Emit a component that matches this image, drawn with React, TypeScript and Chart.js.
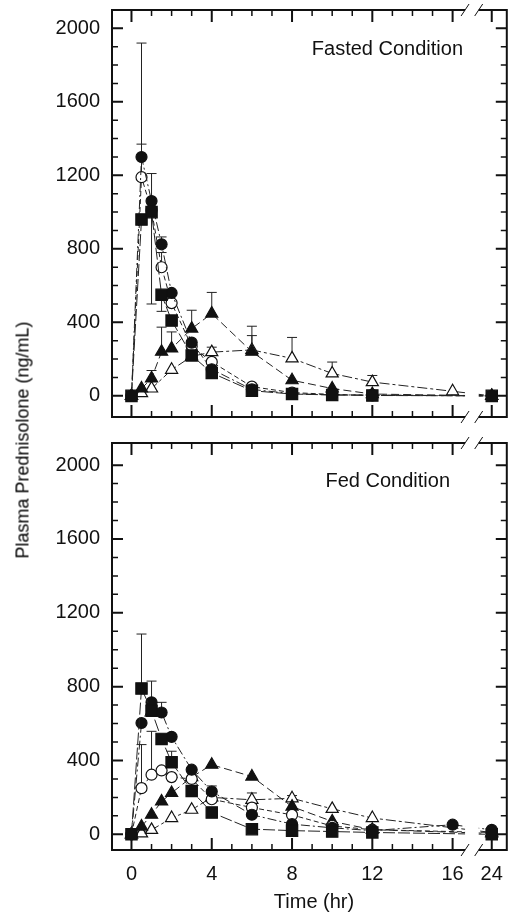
import React, { useEffect, useRef } from 'react';
import { Chart, registerables } from 'chart.js';
Chart.register(...registerables);

const FONT = '"Liberation Sans", Arial, Helvetica, sans-serif';
const INK = '#111';

// ---- data ----
const TIMES = [0, 0.5, 1, 1.5, 2, 3, 4, 6, 8, 10, 12, 16, 24];
const X_TICK_LABELS = [0, 4, 8, 12, 16, 24];
const Y_TICK_VALUES = [0, 400, 800, 1200, 1600, 2000];

// Fasted condition (ng/mL)
const FASTED_FILLED_CIRCLE = [0, 1300, 1060, 825, 560, 290, 145, 35, 12, 5, 5, null, 0];
const FASTED_OPEN_CIRCLE = [0, 1190, 1010, 700, 505, 270, 185, 50, 18, 8, 3, null, 0];
const FASTED_FILLED_SQUARE = [0, 960, 1000, 550, 410, 220, 125, 28, 10, 5, 2, null, 0];
const FASTED_FILLED_TRIANGLE = [0, 40, 95, 240, 258, 366, 448, 240, 85, 40, 10, null, 0];
const FASTED_OPEN_TRIANGLE = [0, 15, 40, null, 142, 215, 238, 250, 204, 122, 75, 25, 0];

// Fasted error bars (+ up, - down)
const FASTED_FILLED_CIRCLE_ERR = [null, 620, 150, 40, null, null, null, null, null, null, null, null, null];
const FASTED_OPEN_CIRCLE_ERR = [null, 180, null, 80, null, null, null, null, null, null, null, null, null];
const FASTED_FILLED_SQUARE_ERR = [null, null, -500, -90, null, null, null, null, null, null, null, null, null];
const FASTED_FILLED_TRIANGLE_ERR = [null, null, 43, 134, 90, 100, 115, 88, null, null, null, null, null];
const FASTED_OPEN_TRIANGLE_ERR = [null, null, null, null, null, null, 27, 129, 114, 62, 36, null, null];

// Fed condition (ng/mL)
const FED_FILLED_CIRCLE = [0, 603, 715, 660, 528, 350, 232, 106, 55, 35, 20, 52, 24];
const FED_OPEN_CIRCLE = [0, 250, 323, 346, 310, 300, 190, 145, 105, 45, 25, null, 10];
const FED_FILLED_SQUARE = [0, 790, 670, 517, 390, 235, 118, 28, 20, 15, 10, null, 0];
const FED_FILLED_TRIANGLE = [0, 42, 106, 178, 224, 310, 377, 313, 150, 70, 25, null, 5];
const FED_OPEN_TRIANGLE = [0, 5, 24, null, 88, 133, 200, 187, 195, 138, 88, null, 10];

const FED_FILLED_CIRCLE_ERR = [null, null, 115, 55, null, null, 30, null, null, null, null, null, null];
const FED_OPEN_CIRCLE_ERR = [null, 236, 235, null, null, null, null, null, null, null, null, null, null];
const FED_FILLED_SQUARE_ERR = [null, 295, null, null, 60, null, null, null, null, null, null, null, null];
const FED_FILLED_TRIANGLE_ERR = [null, null, null, null, null, null, null, null, null, null, null, null, null];
const FED_OPEN_TRIANGLE_ERR = [null, null, null, null, null, null, null, 37, 15, null, null, null, null];

// ---- styling / layout ----
type Sym = { pointStyle: string; radius: number; fill: string; dash: number[] };
const SYM: Record<string, Sym> = {
  filledSquare: { pointStyle: 'rect', radius: 8, fill: INK, dash: [12, 3] },
  filledCircle: { pointStyle: 'circle', radius: 5.5, fill: INK, dash: [9, 3, 2, 3] },
  openCircle: { pointStyle: 'circle', radius: 5.5, fill: '#fff', dash: [5, 3] },
  filledTriangle: { pointStyle: 'triangle', radius: 7, fill: INK, dash: [8, 4] },
  openTriangle: { pointStyle: 'triangle', radius: 7, fill: '#fff', dash: [10, 3, 3, 3] },
};

const X_MIN = -0.97;
const X_MAX = 18.7;
const POS_24 = 17.95;
const GAP_START = 16.62;
const GAP_END = 17.3;
const axisPos = (t: number) => (t > 16 ? POS_24 + (t - 24) : t);

type SeriesDef = { sym: string; values: (number | null)[]; errs: (number | null)[] };

function buildDatasets(series: SeriesDef[]) {
  return series.map((s) => {
    const st = SYM[s.sym];
    const data: { x: number; y: number }[] = [];
    TIMES.forEach((t, i) => {
      const v = s.values[i];
      if (v !== null && v !== undefined) data.push({ x: axisPos(t), y: v });
    });
    return {
      label: s.sym,
      data,
      showLine: true,
      borderColor: '#222',
      borderWidth: 1,
      borderDash: st.dash,
      pointStyle: st.pointStyle,
      pointRadius: st.radius,
      pointHoverRadius: st.radius,
      pointBackgroundColor: st.fill,
      pointBorderColor: INK,
      pointBorderWidth: 1.2,
      fill: false,
      tension: 0,
    };
  });
}

function makePlugin(series: SeriesDef[], note: { text: string; x: number; y: number }, xTitle: boolean) {
  return {
    id: 'panelFrame',
    beforeDatasetsDraw(chart: any) {
      const ctx = chart.ctx;
      const xs = chart.scales.x;
      const ys = chart.scales.y;
      ctx.save();
      ctx.strokeStyle = '#222';
      ctx.lineWidth = 1;
      series.forEach((s) => {
        TIMES.forEach((t, i) => {
          const v = s.values[i];
          const e = s.errs[i];
          if (v === null || e === null || e === undefined) return;
          const px = xs.getPixelForValue(axisPos(t));
          const y0 = ys.getPixelForValue(v);
          const y1 = ys.getPixelForValue(v + e);
          ctx.beginPath();
          ctx.moveTo(px, y0);
          ctx.lineTo(px, y1);
          ctx.moveTo(px - 5, y1);
          ctx.lineTo(px + 5, y1);
          ctx.stroke();
        });
      });
      ctx.restore();
    },
    afterDatasetsDraw(chart: any) {
      const ctx = chart.ctx;
      const ca = chart.chartArea;
      const xs = chart.scales.x;
      const g0 = xs.getPixelForValue(GAP_START);
      const g1 = xs.getPixelForValue(GAP_END);
      ctx.save();
      ctx.fillStyle = '#fff';
      ctx.fillRect(g0, ca.top - 2, g1 - g0, ca.bottom - ca.top + 4);
      ctx.restore();
    },
    afterDraw(chart: any) {
      const ctx = chart.ctx;
      const ca = chart.chartArea;
      const xs = chart.scales.x;
      const ys = chart.scales.y;
      const g0 = xs.getPixelForValue(GAP_START);
      const g1 = xs.getPixelForValue(GAP_END);
      ctx.save();
      ctx.strokeStyle = INK;
      ctx.lineCap = 'butt';
      // frame
      ctx.lineWidth = 2;
      ctx.beginPath();
      ctx.moveTo(ca.left, ca.top);
      ctx.lineTo(ca.left, ca.bottom);
      ctx.moveTo(ca.right, ca.top);
      ctx.lineTo(ca.right, ca.bottom);
      [ca.top, ca.bottom].forEach((yy) => {
        ctx.moveTo(ca.left - 1, yy);
        ctx.lineTo(g0, yy);
        ctx.moveTo(g1, yy);
        ctx.lineTo(ca.right + 1, yy);
      });
      ctx.stroke();
      // break slashes
      ctx.lineWidth = 1;
      ctx.beginPath();
      [ca.top, ca.bottom].forEach((yy) => {
        [g0, g1].forEach((gx) => {
          ctx.moveTo(gx - 4, yy + 6);
          ctx.lineTo(gx + 4, yy - 6);
        });
      });
      ctx.stroke();
      // x ticks (inward) top & bottom
      const hours: number[] = [];
      for (let h = 0; h <= 16; h++) hours.push(h);
      hours.push(24);
      hours.forEach((h) => {
        const major = h % 4 === 0;
        const len = major ? 12 : 6;
        const px = xs.getPixelForValue(axisPos(h));
        ctx.lineWidth = major ? 2 : 1.5;
        ctx.beginPath();
        ctx.moveTo(px, ca.top);
        ctx.lineTo(px, ca.top + len);
        ctx.moveTo(px, ca.bottom);
        ctx.lineTo(px, ca.bottom - len);
        ctx.stroke();
      });
      // y ticks (inward) left & right
      for (let v = 0; v <= 2000; v += 100) {
        const major = v % 400 === 0;
        const len = major ? 11 : 6;
        const py = ys.getPixelForValue(v);
        ctx.lineWidth = major ? 2 : 1.5;
        ctx.beginPath();
        ctx.moveTo(ca.left, py);
        ctx.lineTo(ca.left + len, py);
        ctx.moveTo(ca.right, py);
        ctx.lineTo(ca.right - len, py);
        ctx.stroke();
      }
      // annotation
      ctx.fillStyle = INK;
      ctx.font = `20px ${FONT}`;
      ctx.textAlign = 'right';
      ctx.textBaseline = 'alphabetic';
      ctx.fillText(note.text, note.x, note.y);
      if (xTitle) {
        ctx.textAlign = 'center';
        ctx.fillText('Time (hr)', 314, chart.height - 9);
      }
      ctx.restore();
    },
  };
}

type PanelProps = {
  height: number;
  padTop: number;
  padBottom: number;
  yMin: number;
  yMax: number;
  showX: boolean;
  series: SeriesDef[];
  note: { text: string; x: number; y: number };
};

function Panel(p: PanelProps) {
  const ref = useRef<HTMLCanvasElement | null>(null);
  useEffect(() => {
    if (!ref.current) return;
    const chart = new Chart(ref.current, {
      type: 'scatter',
      data: { datasets: buildDatasets(p.series) as any },
      options: {
        animation: false,
        responsive: false,
        maintainAspectRatio: false,
        devicePixelRatio: 1,
        layout: { padding: { left: 0, right: 5, top: p.padTop, bottom: p.padBottom } },
        plugins: { legend: { display: false }, tooltip: { enabled: false } },
        scales: {
          x: {
            type: 'linear',
            min: X_MIN,
            max: X_MAX,
            display: p.showX,
            grid: { display: false, drawTicks: false },
            border: { display: false },
            afterBuildTicks: (s: any) => {
              s.ticks = X_TICK_LABELS.map((t) => ({ value: axisPos(t) }));
            },
            afterFit: (s: any) => {
              s.height = p.showX ? 67 : 0;
              s.paddingLeft = 0;
              s.paddingRight = 0;
            },
            ticks: {
              padding: 12,
              autoSkip: false,
              maxRotation: 0,
              color: INK,
              font: { family: FONT, size: 20 },
              callback: (val: any) => {
                const t = X_TICK_LABELS.find((h) => Math.abs(axisPos(h) - val) < 1e-6);
                return t === undefined ? '' : String(t);
              },
            },
          },
          y: {
            type: 'linear',
            min: p.yMin,
            max: p.yMax,
            grid: { display: false, drawTicks: false },
            border: { display: false },
            afterBuildTicks: (s: any) => {
              s.ticks = Y_TICK_VALUES.map((v) => ({ value: v }));
            },
            afterFit: (s: any) => {
              s.width = 112;
              s.paddingTop = 0;
              s.paddingBottom = 0;
            },
            ticks: {
              padding: 12,
              color: INK,
              font: { family: FONT, size: 20 },
              callback: (val: any) => String(val),
            },
          },
        },
      } as any,
      plugins: [makePlugin(p.series, p.note, p.showX)],
    });
    return () => chart.destroy();
  }, []);
  return (
    <canvas
      ref={ref}
      width={516}
      height={p.height}
      style={{ display: 'block', width: 516, height: p.height }}
    />
  );
}

const FASTED: SeriesDef[] = [
  { sym: 'filledSquare', values: FASTED_FILLED_SQUARE, errs: FASTED_FILLED_SQUARE_ERR },
  { sym: 'filledCircle', values: FASTED_FILLED_CIRCLE, errs: FASTED_FILLED_CIRCLE_ERR },
  { sym: 'openCircle', values: FASTED_OPEN_CIRCLE, errs: FASTED_OPEN_CIRCLE_ERR },
  { sym: 'filledTriangle', values: FASTED_FILLED_TRIANGLE, errs: FASTED_FILLED_TRIANGLE_ERR },
  { sym: 'openTriangle', values: FASTED_OPEN_TRIANGLE, errs: FASTED_OPEN_TRIANGLE_ERR },
];

const FED: SeriesDef[] = [
  { sym: 'filledSquare', values: FED_FILLED_SQUARE, errs: FED_FILLED_SQUARE_ERR },
  { sym: 'filledCircle', values: FED_FILLED_CIRCLE, errs: FED_FILLED_CIRCLE_ERR },
  { sym: 'openCircle', values: FED_OPEN_CIRCLE, errs: FED_OPEN_CIRCLE_ERR },
  { sym: 'filledTriangle', values: FED_FILLED_TRIANGLE, errs: FED_FILLED_TRIANGLE_ERR },
  { sym: 'openTriangle', values: FED_OPEN_TRIANGLE, errs: FED_OPEN_TRIANGLE_ERR },
];

export default function App() {
  return (
    <div style={{ position: 'fixed', left: 0, top: 0, width: 516, height: 917, background: '#fff', overflow: 'hidden' }}>
      <Panel
        height={430}
        padTop={10}
        padBottom={13}
        yMin={-115}
        yMax={2100}
        showX={false}
        series={FASTED}
        note={{ text: 'Fasted Condition', x: 463, y: 55 }}
      />
      <Panel
        height={487}
        padTop={13}
        padBottom={0}
        yMin={-85}
        yMax={2120}
        showX={true}
        series={FED}
        note={{ text: 'Fed Condition', x: 450, y: 57 }}
      />
      <div
        style={{
          position: 'absolute',
          left: 23,
          top: 440,
          transform: 'translate(-50%, -50%) rotate(-90deg)',
          whiteSpace: 'nowrap',
          fontFamily: FONT,
          fontSize: 18,
          color: '#000',
        }}
      >
        Plasma Prednisolone (ng/mL)
      </div>
    </div>
  );
}
